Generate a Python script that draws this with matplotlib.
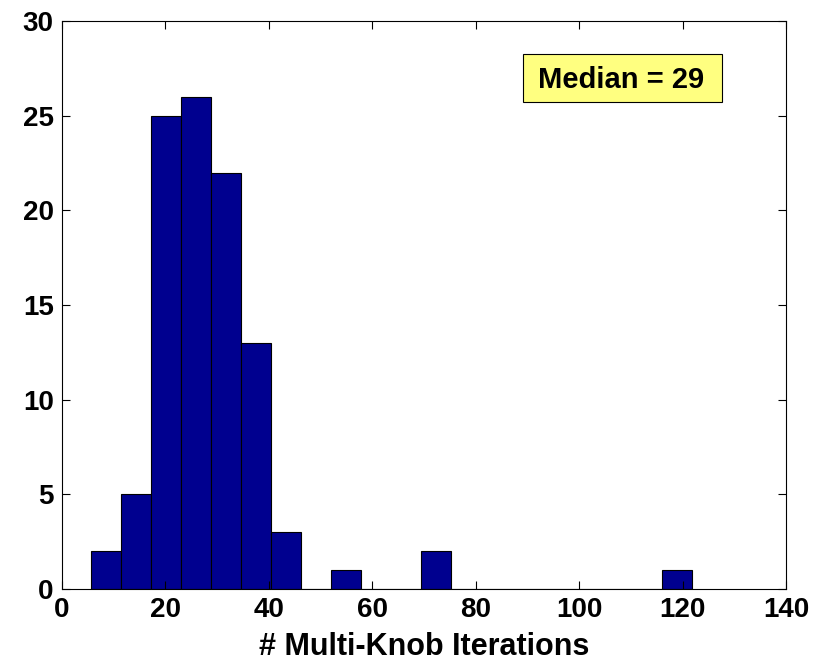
import numpy as np
import matplotlib
matplotlib.use("Agg")
import matplotlib.pyplot as plt
from matplotlib.patches import Rectangle

plt.rcParams['font.family'] = ['Liberation Sans', 'DejaVu Sans']
plt.rcParams['font.weight'] = 'bold'

# histogram: 20 bins between min and max of the iteration counts
bin_lo = 5.6
bin_hi = 121.8
counts = [2, 5, 25, 26, 22, 13, 3, 0, 1, 0, 0, 2, 0, 0, 0, 0, 0, 0, 0, 1]
median_label = "Median = 29"

edges = np.linspace(bin_lo, bin_hi, len(counts) + 1)
width = edges[1] - edges[0]

fig = plt.figure(figsize=(8.23, 6.62), dpi=100)
ax = fig.add_axes([0.0753, 0.1103, 0.8797, 0.8577])

ax.bar(edges[:-1], counts, width=width, align='edge',
       color='#00008F', edgecolor='black', linewidth=0.8)

ax.set_xlim(0, 140)
ax.set_ylim(0, 30)
ax.set_xticks(np.arange(0, 141, 20))
ax.set_yticks(np.arange(0, 31, 5))
ax.tick_params(direction='in', length=6, width=0.8, top=True, right=True,
               labelsize=20, pad=6)
for lbl in ax.get_xticklabels() + ax.get_yticklabels():
    lbl.set_fontweight('bold')
for s in ax.spines.values():
    s.set_linewidth(0.8)

ax.set_xlabel("# Multi-Knob Iterations", fontsize=22, fontweight='bold', labelpad=6)

# yellow annotation box
ax.add_patch(Rectangle((0.6367, 0.8574), 0.2749, 0.0845, transform=ax.transAxes,
                       facecolor='#FFFF80', edgecolor='black', linewidth=0.8, zorder=3))
ax.text(0.7728, 0.8815, median_label, transform=ax.transAxes, fontsize=21,
        fontweight='bold', ha='center', va='baseline', zorder=4)

fig.savefig("out.png", dpi=100)
